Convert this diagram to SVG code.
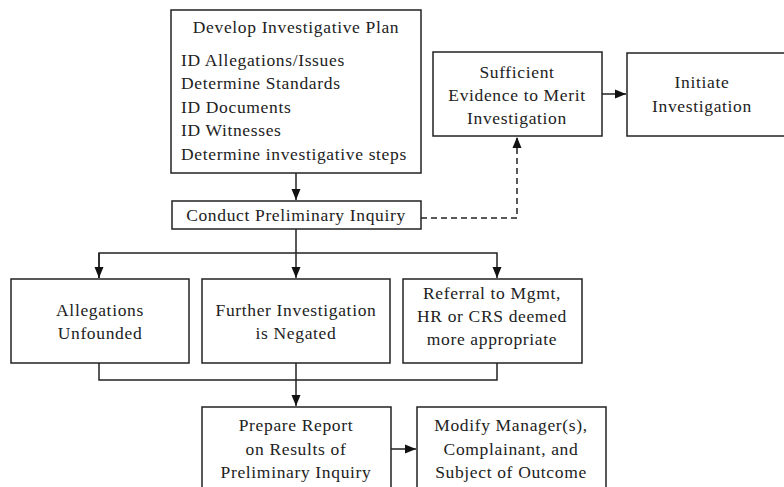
<svg xmlns="http://www.w3.org/2000/svg" width="784" height="487" viewBox="0 0 784 487">
<style>
.box{fill:#fff;stroke:#222;stroke-width:1.5}
.t{font-family:"Liberation Serif","DejaVu Serif",serif;font-size:17.5px;letter-spacing:0.65px;fill:#222}
.c{text-anchor:middle}
.ln{fill:none;stroke:#222;stroke-width:1.5}
.dash{stroke-dasharray:6 4}
</style>
<defs>
<marker id="ah" markerUnits="userSpaceOnUse" markerWidth="12" markerHeight="12" viewBox="0 0 12 12" refX="11" refY="6" orient="auto">
<path d="M0,1.5 L11,6 L0,10.5 Z" fill="#111"/>
</marker>
</defs>
<rect width="784" height="487" fill="#fff"/>
<g id="connectors">
<path class="ln" d="M296,173 V200" marker-end="url(#ah)"/>
<path class="ln dash" d="M421,218 H517 V137" marker-end="url(#ah)"/>
<path class="ln" d="M602,94 H626" marker-end="url(#ah)"/>
<path class="ln" d="M296,229 V253"/>
<path class="ln" d="M99,278 V253 H497 V278" marker-end="url(#ah)"/>
<path class="ln" d="M99,253 V278" marker-end="url(#ah)"/>
<path class="ln" d="M296,253 V278" marker-end="url(#ah)"/>
<path class="ln" d="M99,363 V380 H497 V363"/>
<path class="ln" d="M296,363 V406" marker-end="url(#ah)"/>
<path class="ln" d="M391,449 H416" marker-end="url(#ah)"/>
</g>
<g id="plan">
<rect class="box" x="171" y="10" width="250" height="163"/>
<text class="t c" x="296" y="33">Develop Investigative Plan</text>
<text class="t" x="181" y="66">ID Allegations/Issues</text>
<text class="t" x="181" y="89">Determine Standards</text>
<text class="t" x="181" y="113">ID Documents</text>
<text class="t" x="181" y="136">ID Witnesses</text>
<text class="t" x="181" y="160">Determine investigative steps</text>
</g>
<g id="sufficient">
<rect class="box" x="433" y="52" width="169" height="84"/>
<text class="t c" x="517" y="78">Sufficient</text>
<text class="t c" x="517" y="101">Evidence to Merit</text>
<text class="t c" x="517" y="124">Investigation</text>
</g>
<g id="initiate">
<rect class="box" x="627" y="53" width="170" height="83"/>
<text class="t c" x="702" y="88">Initiate</text>
<text class="t c" x="702" y="112">Investigation</text>
</g>
<g id="conduct">
<rect class="box" x="172" y="201" width="249" height="28"/>
<text class="t c" x="296" y="221">Conduct Preliminary Inquiry</text>
</g>
<g id="unfounded">
<rect class="box" x="11" y="279" width="178" height="84"/>
<text class="t c" x="100" y="316">Allegations</text>
<text class="t c" x="100" y="339">Unfounded</text>
</g>
<g id="negated">
<rect class="box" x="202" y="279" width="188" height="84"/>
<text class="t c" x="296" y="316">Further Investigation</text>
<text class="t c" x="296" y="339">is Negated</text>
</g>
<g id="referral">
<rect class="box" x="403" y="279" width="179" height="84"/>
<text class="t c" x="492" y="299">Referral to Mgmt,</text>
<text class="t c" x="492" y="322">HR or CRS deemed</text>
<text class="t c" x="492" y="345">more appropriate</text>
</g>
<g id="report">
<rect class="box" x="202" y="407" width="189" height="90"/>
<text class="t c" x="296" y="431">Prepare Report</text>
<text class="t c" x="296" y="455">on Results of</text>
<text class="t c" x="296" y="478">Preliminary Inquiry</text>
</g>
<g id="modify">
<rect class="box" x="417" y="407" width="189" height="90"/>
<text class="t c" x="511" y="431">Modify Manager(s),</text>
<text class="t c" x="511" y="455">Complainant, and</text>
<text class="t c" x="511" y="478">Subject of Outcome</text>
</g>
</svg>
